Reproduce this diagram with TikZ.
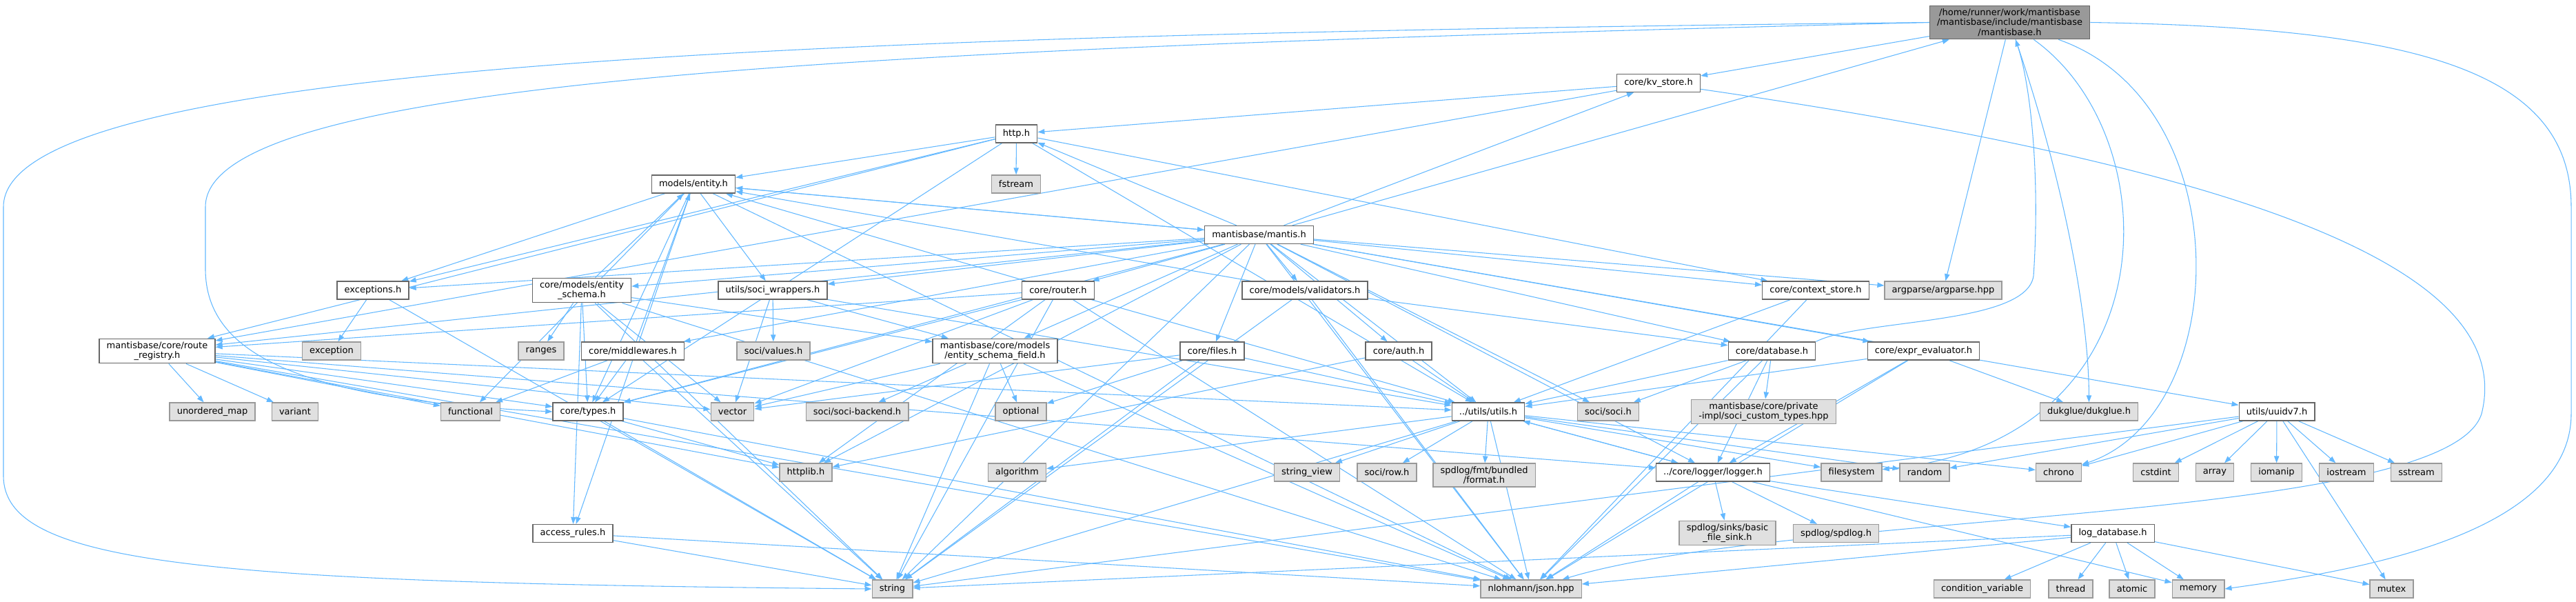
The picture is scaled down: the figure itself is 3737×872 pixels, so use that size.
\documentclass[tikz,border=0pt]{standalone}
\usepackage{fontspec}
\setmainfont{DejaVu Sans}
\usetikzlibrary{arrows.meta}
\definecolor{edgeblue}{HTML}{63B8FF}
\definecolor{sysfill}{HTML}{E0E0E0}
\definecolor{sysdraw}{HTML}{999999}
\definecolor{hdrdraw}{HTML}{666666}
\definecolor{rootfill}{HTML}{999999}
\pgfdeclarelayer{bg}
\pgfsetlayers{bg,main}

\begin{document}
\begin{tikzpicture}[x=0.75pt,y=-0.75pt,font=\fontsize{9.75}{11}\selectfont,
    box/.style={draw=hdrdraw,fill=white,line width=1pt,inner xsep=8pt,inner ysep=3pt,minimum height=19.5pt,align=center},
    sys/.style={box,draw=sysdraw,fill=sysfill},
    root/.style={box,fill=rootfill},
    dep/.style={draw=edgeblue,line width=0.8pt,-{Triangle[length=7.5pt,width=5.5pt]}}]
    \useasboundingbox (0,0) rectangle (3737,872);
    % rank 0 - 4
    \node[root] (mb) at (2915.5,32.5) {/home/runner/work/mantisbase\\/mantisbase/include/mantisbase\\/mantisbase.h};
    \node[box] (kvstore) at (2406,120.5) {core/kv\_store.h};
    \node[box] (http) at (1474.5,194) {http.h};
    \node[box] (entity) at (1006,267) {models/entity.h};
    \node[sys] (fstream) at (1474,267) {fstream};
    \node[box] (mantis) at (1826.5,340.5) {mantisbase/mantis.h};
    % rank 5
    \node[box] (exceptions) at (541,421) {exceptions.h};
    \node[box] (entityschema) at (844,421) {core/models/entity\\\_schema.h};
    \node[box] (sociwrap) at (1121,421) {utils/soci\_wrappers.h};
    \node[box] (router) at (1535,421) {core/router.h};
    \node[box] (validators) at (1893,421) {core/models/validators.h};
    \node[box] (ctxstore) at (2634,421) {core/context\_store.h};
    \node[sys] (argparse) at (2819,421) {argparse/argparse.hpp};
    % rank 6
    \node[box] (routereg) at (228,509) {mantisbase/core/route\\\_registry.h};
    \node[sys] (exception) at (481,509) {exception};
    \node[sys] (ranges) at (785,509) {ranges};
    \node[box] (middlewares) at (918,509) {core/middlewares.h};
    \node[sys] (socivalues) at (1122,509) {soci/values.h};
    \node[box] (schemafield) at (1443.5,509) {mantisbase/core/models\\/entity\_schema\_field.h};
    \node[box] (files) at (1758.5,509) {core/files.h};
    \node[box] (auth) at (2029,509) {core/auth.h};
    \node[box] (database) at (2570.5,509) {core/database.h};
    \node[box] (expreval) at (2790.5,509) {core/expr\_evaluator.h};
    % rank 7
    \node[sys] (umap) at (308,597) {unordered\_map};
    \node[sys] (variant) at (428,597) {variant};
    \node[sys] (functional) at (682.5,597) {functional};
    \node[box] (types) at (853,597) {core/types.h};
    \node[sys] (vector) at (1062.5,597) {vector};
    \node[sys] (socibackend) at (1243.5,597) {soci/soci-backend.h};
    \node[sys] (optional) at (1481,597) {optional};
    \node[box] (utils) at (2159,597) {../utils/utils.h};
    \node[sys] (socisoci) at (2333,597) {soci/soci.h};
    \node[sys] (socicustom) at (2558.5,597) {mantisbase/core/private\\-impl/soci\_custom\_types.hpp};
    \node[sys] (dukglue) at (3030.5,597) {dukglue/dukglue.h};
    \node[box] (uuid) at (3303,597) {utils/uuidv7.h};
    % rank 8
    \node[sys] (httplib) at (1169,685) {httplib.h};
    \node[sys] (algorithm) at (1475.5,685) {algorithm};
    \node[sys] (stringview) at (1896,685) {string\_view};
    \node[sys] (socirow) at (2012,685) {soci/row.h};
    \node[sys] (fmtformat) at (2153,689) {spdlog/fmt/bundled\\/format.h};
    \node[box] (logger) at (2485,685) {../core/logger/logger.h};
    \node[sys] (filesystem) at (2686,685) {filesystem};
    \node[sys] (random) at (2792,685) {random};
    \node[sys] (chrono) at (2986.5,685) {chrono};
    \node[sys] (cstdint) at (3127.5,685) {cstdint};
    \node[sys] (array) at (3213,685) {array};
    \node[sys] (iomanip) at (3302.5,685) {iomanip};
    \node[sys] (iostream) at (3404,685) {iostream};
    \node[sys] (sstream) at (3505.5,685) {sstream};
    % rank 9 - 10
    \node[box] (accessrules) at (831,773.5) {access\_rules.h};
    \node[sys] (filesink) at (2506,773) {spdlog/sinks/basic\\\_file\_sink.h};
    \node[sys] (spdlog) at (2663.5,773.5) {spdlog/spdlog.h};
    \node[box] (logdb) at (3065,773.5) {log\_database.h};
    \node[sys] (string) at (1294.5,854) {string};
    \node[sys] (json) at (2221,854) {nlohmann/json.hpp};
    \node[sys] (condvar) at (2875.5,854) {condition\_variable};
    \node[sys] (thread) at (3004,854) {thread};
    \node[sys] (atomic) at (3093,854) {atomic};
    \node[sys] (memory) at (3189,854) {memory};
    \node[sys] (mutex) at (3469.5,854) {mutex};

    \begin{pgfonlayer}{bg}
    \foreach \a/\b in {mb/kvstore, mb/argparse,
        kvstore/http, kvstore/routereg,
        http/fstream, http/entity, http/ctxstore, http/utils, http/routereg, http/types, http/exceptions,
        entity/mantis, entity/exceptions, entity/sociwrap, entity/functional, entity/types, entity/accessrules, entity/json,
        mantis/entity, mantis/http, mantis/kvstore, mantis/mb, mantis/exceptions, mantis/entityschema, mantis/sociwrap,
        mantis/router, mantis/validators, mantis/ctxstore, mantis/argparse, mantis/routereg, mantis/middlewares,
        mantis/schemafield, mantis/files, mantis/auth, mantis/database, mantis/expreval, mantis/uuid, mantis/utils,
        mantis/socisoci, mantis/types, mantis/httplib, mantis/string, mantis/json, mantis/logger,
        exceptions/exception, exceptions/string,
        entityschema/ranges, entityschema/entity, entityschema/types, entityschema/vector, entityschema/accessrules,
        entityschema/schemafield, entityschema/string, entityschema/json,
        sociwrap/socivalues, sociwrap/schemafield, sociwrap/utils, sociwrap/vector,
        router/routereg, router/entity, router/types, router/httplib, router/utils, router/vector, router/string, router/json,
        validators/entity, validators/database, validators/string, validators/json,
        ctxstore/utils, ctxstore/json,
        routereg/umap, routereg/variant, routereg/functional, routereg/types, routereg/vector, routereg/httplib,
        routereg/json, routereg/utils, routereg/logger,
        middlewares/functional, middlewares/types, middlewares/entity, middlewares/string,
        schemafield/socibackend, schemafield/optional, schemafield/string, schemafield/json, schemafield/vector,
        files/optional, files/string, files/utils, files/vector,
        auth/utils, auth/httplib,
        database/utils, database/socisoci, database/socicustom, database/logger, database/json,
        expreval/utils, expreval/dukglue, expreval/logger, expreval/json,
        types/httplib, types/json, types/string,
        utils/string, utils/json, utils/socirow, utils/fmtformat, utils/logger, utils/filesystem, utils/random,
        utils/chrono, utils/algorithm, utils/stringview,
        uuid/chrono, uuid/cstdint, uuid/array, uuid/iomanip, uuid/iostream, uuid/sstream, uuid/random, uuid/mutex, uuid/string,
        logger/utils, logger/filesink, logger/spdlog, logger/logdb, logger/json, logger/memory,
        logdb/condvar, logdb/thread, logdb/atomic, logdb/memory, logdb/mutex, logdb/json, logdb/string,
        accessrules/json, accessrules/string}
        \draw[dep] (\a) -- (\b);
    % long curved ones
    \draw[dep] (mb.west) .. controls (1200,50) and (5,90) .. (5,300) -- (5,690) .. controls (5,820) and (300,845) .. (string.west);
    \draw[dep] (mb.west) .. controls (1300,70) and (298,110) .. (298,300) -- (298,390) .. controls (298,520) and (450,580) .. (types.west);
    \draw[dep] (mb.east) .. controls (3500,40) and (3730,100) .. (3730,300) -- (3730,600) .. controls (3730,780) and (3400,830) .. (memory.east);
    \draw[dep] (mb) .. controls (2990,250) and (3030,450) .. (dukglue);
    \draw[dep] (mb) .. controls (3150,200) and (3150,640) .. (filesystem);
    \draw[dep] (mb) .. controls (3250,150) and (3240,600) .. (chrono);
    \draw[dep] (kvstore) .. controls (3300,250) and (3650,400) .. (3600,600) .. controls (3550,760) and (2600,740) .. (json);
    \draw[dep] (database.north east) .. controls (2700,462) and (2940,472) .. (2950,400) .. controls (2960,250) and (2945,120) .. (mb);
    \end{pgfonlayer}
\end{tikzpicture}
\end{document}
